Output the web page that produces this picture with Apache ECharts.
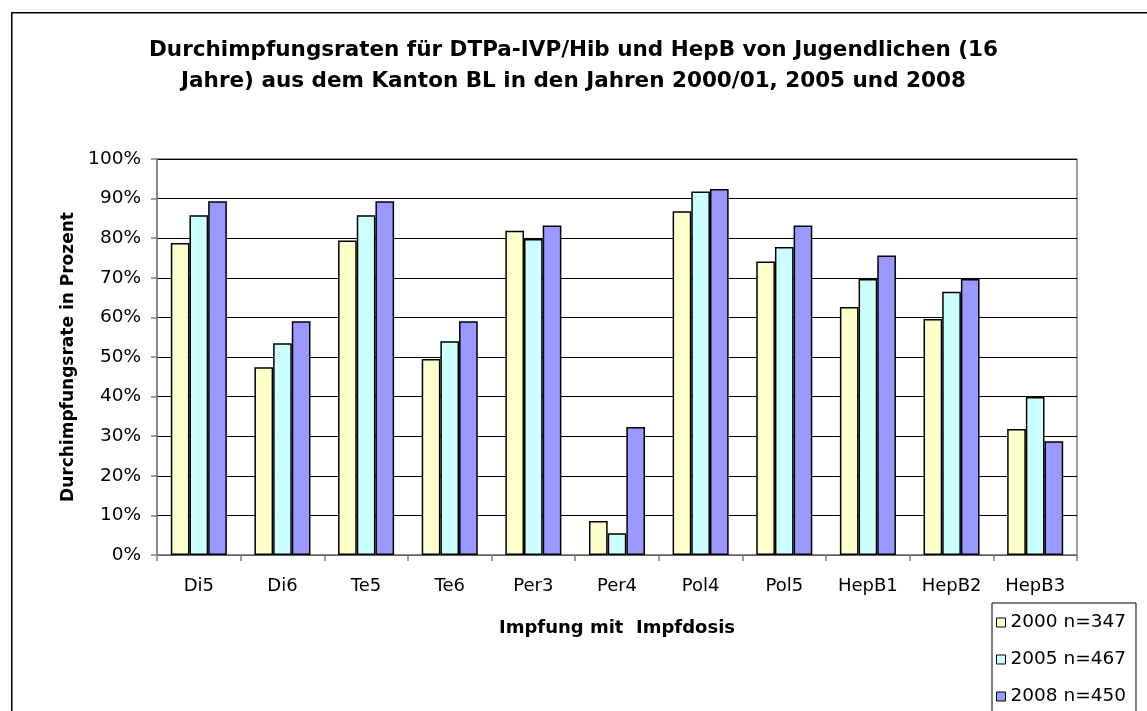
<!DOCTYPE html>
<html>
<head>
<meta charset="utf-8">
<script src="https://cdn.jsdelivr.net/npm/echarts@6/dist/echarts.min.js"></script>
<style>
html,body{margin:0;padding:0;background:#fff;}
#chart{width:1147px;height:711px;}
</style>
</head>
<body>
<div id="chart"></div>
<script>
const categories = ['Di5','Di6','Te5','Te6','Per3','Per4','Pol4','Pol5','HepB1','HepB2','HepB3'];
const seriesNames = ['2000 n=347','2005 n=467','2008 n=450'];
const values2000 = [78.8, 47.4, 79.4, 49.5, 81.9, 8.6, 86.8, 74.1, 62.6, 59.6, 31.8];
const values2005 = [85.8, 53.5, 85.8, 54.0, 79.8, 5.5, 91.8, 77.8, 69.7, 66.5, 39.9];
const values2008 = [89.3, 59.0, 89.3, 59.0, 83.2, 32.3, 92.4, 83.2, 75.6, 69.7, 28.7];
const yTicks = [0,10,20,30,40,50,60,70,80,90,100];

const titleText = 'Durchimpfungsraten für DTPa-IVP/Hib und HepB von Jugendlichen (16\nJahre) aus dem Kanton BL in den Jahren 2000/01, 2005 und 2008';
const xName = 'Impfung mit  Impfdosis';
const yName = 'Durchimpfungsrate in Prozent';

const colors = ['#FFFFCC','#CCFFFF','#9999FF'];
const FONT = '"DejaVu Sans", "Liberation Sans", Arial, sans-serif';

const chart = echarts.init(document.getElementById('chart'), null, {renderer:'canvas'});
const dataSets = [values2000, values2005, values2008];

chart.setOption({
  animation:false,
  backgroundColor:'#fff',
  graphic:[{
    type:'rect', left:11, top:12, z:-10,
    shape:{width:1300, height:900},
    style:{fill:'#fff', stroke:'#000', lineWidth:1.5}
  }],
  title:{
    text:titleText,
    left:'center', top:30,
    textStyle:{fontFamily:FONT, fontSize:21.5, fontWeight:'bold', color:'#000', lineHeight:31}
  },
  legend:{
    orient:'vertical',
    left:992, top:603,
    height:200,
    data:seriesNames,
    itemWidth:9, itemHeight:9, itemGap:18,
    icon:'rect',
    padding:[10,10,9,4],
    borderColor:'#000', borderWidth:1,
    backgroundColor:'#fff',
    textStyle:{fontFamily:FONT, fontSize:18.5, color:'#000'},
    itemStyle:{borderColor:'#000', borderWidth:1}
  },
  grid:{left:157, right:70, top:159, bottom:156, show:true, borderColor:'#808080', borderWidth:1.5},
  xAxis:{
    type:'category',
    data:categories,
    name:xName,
    nameLocation:'middle',
    nameGap:64,
    nameTextStyle:{fontFamily:FONT, fontSize:18, fontWeight:'bold', color:'#000'},
    axisLine:{lineStyle:{color:'#808080', width:1.5}},
    axisTick:{show:true, length:6, lineStyle:{color:'#808080', width:1.5}},
    axisLabel:{fontFamily:FONT, fontSize:18, color:'#000', margin:22}
  },
  yAxis:{
    type:'value',
    min:0, max:100, interval:10,
    name:yName,
    nameLocation:'middle',
    nameGap:71,
    nameTextStyle:{fontFamily:FONT, fontSize:17, fontWeight:'bold', color:'#000'},
    axisLine:{show:true, lineStyle:{color:'#808080', width:1.5}},
    axisTick:{show:true, length:6, lineStyle:{color:'#808080', width:1.5}},
    axisLabel:{fontFamily:FONT, fontSize:18.5, color:'#000', margin:16,
      formatter:function(v){return yTicks.indexOf(v)>=0 ? v+'%' : '';}},
    splitLine:{show:true, lineStyle:{color:'#000', width:1}}
  },
  series: seriesNames.map((n,i)=>({
    name:n,
    type:'bar',
    data:dataSets[i],
    barGap:'0%',
    barCategoryGap:'33%',
    itemStyle:{color:colors[i], borderColor:'#000', borderWidth:1.5}
  }))
});
</script>
</body>
</html>
